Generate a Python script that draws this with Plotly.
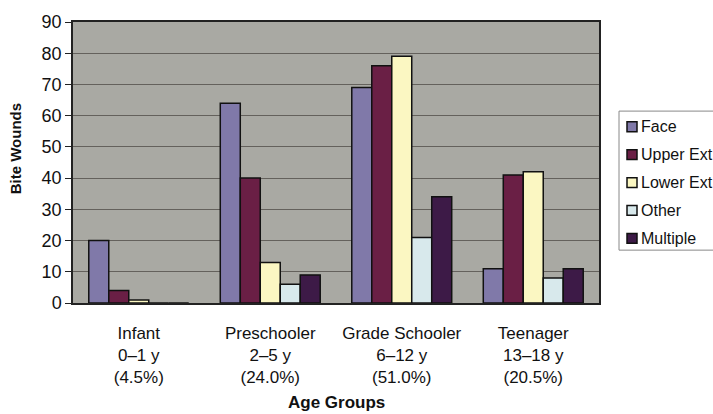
import plotly.graph_objects as go

categories = ["Infant<br>0–1 y<br>(4.5%)", "Preschooler<br>2–5 y<br>(24.0%)",
              "Grade Schooler<br>6–12 y<br>(51.0%)", "Teenager<br>13–18 y<br>(20.5%)"]
series_names = ["Face", "Upper Ext", "Lower Ext", "Other", "Multiple"]
face = [20, 64, 69, 11]
upper_ext = [4, 40, 76, 41]
lower_ext = [1, 13, 79, 42]
other = [0, 6, 21, 8]
multiple = [0, 9, 34, 11]
colors = ["#8079a9", "#6a1f45", "#fbf7c2", "#d8e9ec", "#3d1a47"]
values = [face, upper_ext, lower_ext, other, multiple]

font = "Liberation Sans, Arial, sans-serif"

# plot area in pixels (for converting layout positions to paper coords)
L, R, T, B = 73, 599, 16, 303
def px(x):
    return (x - L) / (R - L)
def py(y):
    return (B - y) / (B - T)

fig = go.Figure()
for name, vals, col in zip(series_names, values, colors):
    fig.add_trace(go.Bar(name=name, x=categories, y=vals, showlegend=False,
                         marker=dict(color=col, line=dict(color="#111", width=1.5))))

shapes = []
annotations = []
# legend box (custom, extends past right edge like the reference)
shapes.append(dict(type="rect", xref="paper", yref="paper",
                   x0=px(619), x1=px(730), y0=py(249), y1=py(107),
                   line=dict(color="#888", width=1), fillcolor="white", layer="above"))
item_y = [123, 151.5, 180, 208.5, 237]
for name, col, yy in zip(series_names, colors, item_y):
    shapes.append(dict(type="rect", xref="paper", yref="paper",
                       x0=px(627), x1=px(637), y0=py(yy + 5), y1=py(yy - 5),
                       line=dict(color="#111", width=1.5), fillcolor=col, layer="above"))
    annotations.append(dict(text=name, xref="paper", yref="paper", x=px(639), y=py(yy),
                            xanchor="left", yanchor="middle", showarrow=False,
                            font=dict(size=16, family=font, color="#111")))

annotations.append(dict(text="<b>Age Groups</b>", xref="paper", yref="paper",
                        x=px(336), y=py(405), xanchor="center", yanchor="middle",
                        showarrow=False, font=dict(size=17, family=font, color="#111")))
annotations.append(dict(text="<b>Bite Wounds</b>", xref="paper", yref="paper",
                        x=px(15), y=py(146), xanchor="center", yanchor="middle",
                        textangle=-90, showarrow=False,
                        font=dict(size=15, family=font, color="#111")))

fig.update_layout(
    width=713, height=414,
    margin=dict(l=L, r=713 - R, t=T, b=414 - B),
    paper_bgcolor="white", plot_bgcolor="#a9a9a3",
    barmode="group", bargap=0.24, bargroupgap=0,
    font=dict(family=font, size=17, color="#111"),
    showlegend=False,
    shapes=shapes, annotations=annotations,
)
fig.update_xaxes(showline=True, linecolor="#222", linewidth=1.5, mirror=True,
                 ticks="", ticklabelstandoff=14, tickfont=dict(size=17))
fig.update_yaxes(range=[0, 90], dtick=10, showline=True, linecolor="#222", linewidth=1.5,
                 mirror=True, ticks="outside", ticklen=6, tickcolor="#222",
                 showgrid=True, gridcolor="#64615c", gridwidth=1, zeroline=False,
                 tickfont=dict(size=18))
fig.write_html("out.html")
